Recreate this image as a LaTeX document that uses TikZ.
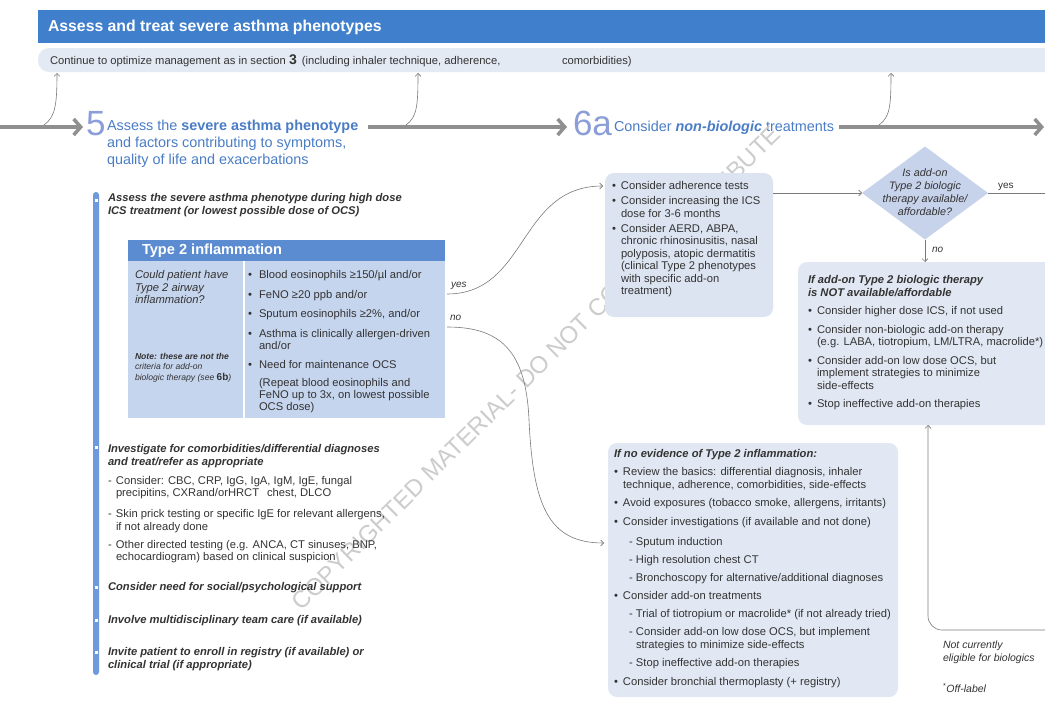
\documentclass[tikz,border=0pt]{standalone}
\usepackage{fontspec}
\setmainfont{Liberation Sans}
\usetikzlibrary{arrows.meta,shapes.geometric}
\definecolor{hdr}{HTML}{3F7FCC}
\definecolor{lbar}{HTML}{E4EAF4}
\definecolor{sblue}{HTML}{4A7DC6}
\definecolor{nblue}{HTML}{8C9ED8}
\definecolor{txt}{HTML}{333333}
\definecolor{boxa}{HTML}{DCE4F2}
\definecolor{thdr}{HTML}{5B8BD1}
\definecolor{tbody}{HTML}{C6D5EE}
\definecolor{diaf}{HTML}{C7D2EB}
\definecolor{boxb}{HTML}{E2E8F3}
\definecolor{lbarb}{HTML}{6E99DA}
\definecolor{agray}{HTML}{8F8F8F}
\definecolor{tgray}{HTML}{7A7A7A}
\newcommand{\myfs}[2]{\fontsize{#1}{#2}\selectfont}
\newcommand{\mybul}{\makebox[9pt][l]{•}}
\newcommand{\mybulb}{\makebox[11pt][l]{•}}
\newcommand{\myind}{\hspace*{9pt}}
\newcommand{\myindb}{\hspace*{11pt}}
\newcommand{\mysub}{\hspace*{15pt}\makebox[7pt][l]{-}}
\newcommand{\mysubind}{\hspace*{22pt}}
\newcommand{\mydash}{\makebox[8pt][l]{-}}
\newcommand{\mydind}{\hspace*{8pt}}
\begin{document}
\begin{tikzpicture}[x=1pt,y=-1pt,
  every node/.style={inner sep=0pt,outer sep=0pt},
  body/.style={font=\myfs{11.2}{12.5}, text=txt, anchor=north west},
  bodybi/.style={font=\bfseries\itshape\myfs{11.2}{12.5}, text=txt, anchor=north west},
  lbl/.style={font=\itshape\myfs{10}{10}, text=txt, anchor=west},
  mainarrow/.style={draw=agray, line width=3.5pt, -{Straight Barb[length=7pt,width=16pt]}},
  thinarrow/.style={draw=tgray, line width=0.6pt, -{Straight Barb[length=3pt,width=6pt]}},
  thinline/.style={draw=tgray, line width=0.6pt},
  panel/.style={anchor=north west, rounded corners=9pt},
  num/.style={anchor=base west, text=nblue, font=\myfs{35}{35}},
  steptext/.style={text=sblue, font=\myfs{14.4}{17}}
]
\useasboundingbox[fill=white] (0,0) rectangle (1045,704);

% header
\node[fill=hdr, anchor=north west, minimum width=1007pt, minimum height=33pt] (hdr) at (38,10) {};
\node[anchor=west, text=white, font=\bfseries\myfs{15.8}{15.8}] (hdrt) at (48,27) {Assess and treat severe asthma phenotypes};

% continue bar
\node[fill=lbar, rounded corners=11pt, anchor=north west, minimum width=1030pt, minimum height=24pt] (cbar) at (38,48) {};
\node[anchor=base west, text=txt, font=\myfs{11.2}{11.2}] (cbt1) at (50,64) {Continue to optimize management as in section {\bfseries\myfs{14}{14}3}\hspace{5pt}(including inhaler technique, adherence,};
\node[anchor=base west, text=txt, font=\myfs{11.2}{11.2}] (cbt2) at (562,64) {comorbidities)};

% main flow
\coordinate (a0) at (0,127);
\coordinate (a1) at (83,127);
\coordinate (a2) at (368,127);
\coordinate (a3) at (567,127);
\coordinate (a4) at (839,127);
\coordinate (a5) at (1044,127);
\draw[mainarrow] (a0) -- (a1);
\draw[mainarrow] (a2) -- (a3);
\draw[mainarrow] (a4) -- (a5);

\node[num] (n5) at (86,135.5) {5};
\node[steptext, anchor=north west] (s5) at (107,118.7) {\begin{tabular}{@{}l@{}}Assess the \textbf{severe asthma phenotype}\\ and factors contributing to symptoms,\\ quality of life and exacerbations\end{tabular}};
\node[num] (n6a) at (573,135.5) {6a};
\node[steptext, anchor=base west] (s6a) at (614,131.5) {Consider \textbf{\textit{non-biologic}} treatments};

% feedback arrows to the continue bar
\coordinate (f1s) at (44,125);
\coordinate (f1e) at (57,73);
\coordinate (f2s) at (406,125);
\coordinate (f2e) at (418,73);
\coordinate (f3s) at (879,125);
\coordinate (f3e) at (891,73);
\draw[thinarrow] (f1s) .. controls (55,117) and (57,106) .. (f1e);
\draw[thinarrow] (f2s) .. controls (417,117) and (418,106) .. (f2e);
\draw[thinarrow] (f3s) .. controls (890,117) and (891,106) .. (f3e);

% watermark
\node[rotate=44.7, text=black!20, font=\myfs{24}{24}] (wm) at (536,368) {COPYRIGHTED MATERIAL- DO NOT COPY OR DISTRIBUTE};

% left column
\node[fill=lbarb, rounded corners=3pt, anchor=north west, minimum width=6pt, minimum height=483pt] (lb) at (93,192) {};
\foreach \yy in {200,447,587,620,652} \fill[white] (94.5,\yy-1.5) rectangle (97.5,\yy+1.5);

\node[bodybi] (l1) at (108,193) {\begin{tabular}{@{}l@{}}Assess the severe asthma phenotype during high dose\\ ICS treatment (or lowest possible dose of OCS)\end{tabular}};

% Type 2 box
\node[fill=tbody, anchor=north west, minimum width=317pt, minimum height=178pt] (t2) at (128,240) {};
\node[fill=thdr, anchor=north west, minimum width=317pt, minimum height=21pt] (t2h) at (128,240) {};
\node[anchor=west, text=white, font=\bfseries\myfs{14.6}{14.6}] (t2ht) at (142,251) {Type 2 inflammation};
\coordinate (dv1) at (244,261);
\coordinate (dv2) at (244,418);
\draw[white, line width=1.5pt] (dv1) -- (dv2);
\node[body, font=\itshape\myfs{11.2}{12.5}] (t2q) at (135,270) {\begin{tabular}{@{}l@{}}Could patient have\\ Type 2 airway\\ inflammation?\end{tabular}};
\node[body, font=\itshape\myfs{8.6}{10.5}] (t2n) at (135,352) {\begin{tabular}{@{}l@{}}\textbf{Note: these are not the}\\ criteria for add-on\\ biologic therapy (see {\bfseries\upshape\myfs{10}{10.5}6b})\end{tabular}};
\node[body, font=\myfs{11.2}{12}] (t2l) at (248,270.3) {\begin{tabular}{@{}l@{}}
\mybulb Blood eosinophils ≥150/µl and/or\\[7.5pt]
\mybulb FeNO ≥20 ppb and/or\\[7.5pt]
\mybulb Sputum eosinophils ≥2\%, and/or\\[7.5pt]
\mybulb Asthma is clinically allergen-driven\\
\myindb and/or\\[7.5pt]
\mybulb Need for maintenance OCS\\[6pt]
\myindb (Repeat blood eosinophils and\\
\myindb FeNO up to 3x, on lowest possible\\
\myindb OCS dose)
\end{tabular}};

\node[body] (l2) at (108,444) {\begin{tabular}{@{}l@{}}
\textbf{\textit{Investigate for comorbidities/differential diagnoses}}\\
\textbf{\textit{and treat/refer as appropriate}}\\[6.5pt]
\mydash Consider: CBC, CRP, IgG, IgA, IgM, IgE, fungal\\
\mydind precipitins, CXRand/orHRCT\hspace{8pt}chest, DLCO\\[8.5pt]
\mydash Skin prick testing or specific IgE for relevant allergens,\\
\mydind if not already done\\[5.5pt]
\mydash Other directed testing (e.g. ANCA, CT sinuses, BNP,\\
\mydind echocardiogram) based on clinical suspicion
\end{tabular}};
\node[bodybi] (l3) at (108,582) {Consider need for social/psychological support};
\node[bodybi] (l4) at (108,615) {Involve multidisciplinary team care (if available)};
\node[bodybi] (l5) at (108,647) {\begin{tabular}{@{}l@{}}Invite patient to enroll in registry (if available) or\\ clinical trial (if appropriate)\end{tabular}};

% yes / no branches
\coordinate (yesS) at (447,294);
\coordinate (yesE) at (603,186);
\coordinate (noS) at (447,327);
\coordinate (noE) at (604,543);
\node[lbl] (lyes) at (451,286) {yes};
\node[lbl] (lno) at (450,318) {no};
\draw[thinarrow] (yesS) .. controls (528,294) and (518,186) .. (yesE);
\draw[thinarrow] (noS) .. controls (500,327) and (526,350) .. (529,420) .. controls (533,505) and (548,543) .. (noE);

% 6a box
\node[panel, fill=boxa, minimum width=168pt, minimum height=144pt] (b6a) at (605,173) {};
\node[body] (t6a) at (612,181) {\begin{tabular}{@{}l@{}}
\mybul Consider adherence tests\\[2.5pt]
\mybul Consider increasing the ICS\\
\myind dose for 3-6 months\\[2.5pt]
\mybul Consider AERD, ABPA,\\
\myind chronic rhinosinusitis, nasal\\
\myind polyposis, atopic dermatitis\\
\myind (clinical Type 2 phenotypes\\
\myind with specific add-on\\
\myind treatment)
\end{tabular}};

% diamond
\node[diamond, fill=diaf, minimum width=126pt, minimum height=93pt, aspect=1.355] (dia) at (925,193) {};
\node[font=\itshape\myfs{10.8}{12.8}, text=txt, align=center] (diat) at (925,192) {Is add-on\\ Type 2 biologic\\ therapy available/\\ affordable?};
\coordinate (yesR) at (1045,193);
\draw[thinarrow] (b6a.east |- dia.west) -- (dia.west);
\draw[thinline] (dia.east) -- (yesR);
\node[anchor=west, font=\myfs{10}{10}, text=txt] (dyes) at (998,187) {yes};

% not available box
\node[panel, fill=boxb, minimum width=262pt, minimum height=163pt] (bNA) at (798,262) {};
\draw[thinarrow] (dia.south) -- (dia.south |- bNA.north);
\node[lbl] (dno) at (932,250) {no};
\node[body] (tNA) at (808,275) {\begin{tabular}{@{}l@{}}
\textbf{\textit{If add-on Type 2 biologic therapy}}\\
\textbf{\textit{is NOT available/affordable}}\\[6pt]
\mybul Consider higher dose ICS, if not used\\[6pt]
\mybul Consider non-biologic add-on therapy\\
\myind (e.g. LABA, tiotropium, LM/LTRA, macrolide*)\\[6pt]
\mybul Consider add-on low dose OCS, but\\
\myind implement strategies to minimize\\
\myind side-effects\\[6pt]
\mybul Stop ineffective add-on therapies
\end{tabular}};

% not eligible arrow
\coordinate (ncE) at (1045,630);
\coordinate (ncC) at (928,630);
\draw[thinarrow, rounded corners=14pt] (ncE) -- (ncC) -- (ncC |- bNA.south);
\node[body, font=\itshape\myfs{10.5}{12.5}] (tne) at (943,640) {\begin{tabular}{@{}l@{}}Not currently\\ eligible for biologics\end{tabular}};
\node[anchor=west, font=\myfs{10.5}{10.5}, text=txt] (toff) at (943,688) {\textsuperscript{*}\textit{Off-label}};

% no evidence box
\node[panel, fill=boxb, minimum width=290pt, minimum height=254pt] (bNo) at (608,443) {};
\node[body] (tNo) at (614,449) {\begin{tabular}{@{}l@{}}
\textbf{\textit{If no evidence of Type 2 inflammation:}}\\[5.5pt]
\mybul Review the basics: differential diagnosis, inhaler\\
\myind technique, adherence, comorbidities, side-effects\\[6pt]
\mybul Avoid exposures (tobacco smoke, allergens, irritants)\\[6.5pt]
\mybul Consider investigations (if available and not done)\\[7.5pt]
\mysub Sputum induction\\[5.5pt]
\mysub High resolution chest CT\\[5.5pt]
\mysub Bronchoscopy for alternative/additional diagnoses\\[5.5pt]
\mybul Consider add-on treatments\\[5.5pt]
\mysub Trial of tiotropium or macrolide* (if not already tried)\\[5.5pt]
\mysub Consider add-on low dose OCS, but implement\\
\mysubind strategies to minimize side-effects\\[5.5pt]
\mysub Stop ineffective add-on therapies\\[6.5pt]
\mybul Consider bronchial thermoplasty (+ registry)
\end{tabular}};
\end{tikzpicture}
\end{document}
